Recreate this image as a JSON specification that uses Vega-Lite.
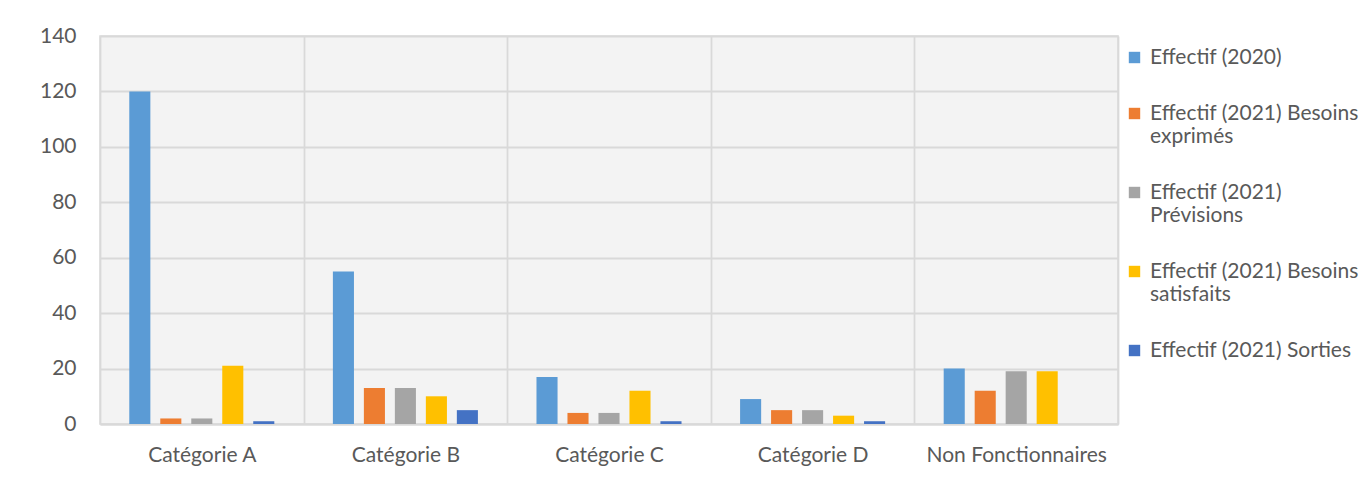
{
  "$schema": "https://vega.github.io/schema/vega-lite/v6.json",
  "autosize": {"type": "none"},
  "width": 1018,
  "height": 388,
  "padding": {"left": 100, "top": 36, "right": 253, "bottom": 77},
  "background": "white",
  "config": {
    "font": "Lato",
    "view": {"fill": "#f3f3f3", "stroke": "#d9d9d9", "strokeWidth": 1.5},
    "axis": {"labelFont": "Lato", "labelColor": "#595959", "labelFontSize": 21, "gridColor": "#d9d9d9", "gridWidth": 1.8, "ticks": false}
  },
  "data": {
    "values": [
      {"category": "Catégorie A", "series": "Effectif (2020)", "value": 120},
      {"category": "Catégorie A", "series": "Effectif (2021)  Besoins exprimés", "value": 2},
      {"category": "Catégorie A", "series": "Effectif (2021) Prévisions", "value": 2},
      {"category": "Catégorie A", "series": "Effectif (2021)  Besoins satisfaits", "value": 21},
      {"category": "Catégorie A", "series": "Effectif (2021)  Sorties", "value": 1},
      {"category": "Catégorie B", "series": "Effectif (2020)", "value": 55},
      {"category": "Catégorie B", "series": "Effectif (2021)  Besoins exprimés", "value": 13},
      {"category": "Catégorie B", "series": "Effectif (2021) Prévisions", "value": 13},
      {"category": "Catégorie B", "series": "Effectif (2021)  Besoins satisfaits", "value": 10},
      {"category": "Catégorie B", "series": "Effectif (2021)  Sorties", "value": 5},
      {"category": "Catégorie C", "series": "Effectif (2020)", "value": 17},
      {"category": "Catégorie C", "series": "Effectif (2021)  Besoins exprimés", "value": 4},
      {"category": "Catégorie C", "series": "Effectif (2021) Prévisions", "value": 4},
      {"category": "Catégorie C", "series": "Effectif (2021)  Besoins satisfaits", "value": 12},
      {"category": "Catégorie C", "series": "Effectif (2021)  Sorties", "value": 1},
      {"category": "Catégorie D", "series": "Effectif (2020)", "value": 9},
      {"category": "Catégorie D", "series": "Effectif (2021)  Besoins exprimés", "value": 5},
      {"category": "Catégorie D", "series": "Effectif (2021) Prévisions", "value": 5},
      {"category": "Catégorie D", "series": "Effectif (2021)  Besoins satisfaits", "value": 3},
      {"category": "Catégorie D", "series": "Effectif (2021)  Sorties", "value": 1},
      {"category": "Non Fonctionnaires", "series": "Effectif (2020)", "value": 20},
      {"category": "Non Fonctionnaires", "series": "Effectif (2021)  Besoins exprimés", "value": 12},
      {"category": "Non Fonctionnaires", "series": "Effectif (2021) Prévisions", "value": 19},
      {"category": "Non Fonctionnaires", "series": "Effectif (2021)  Besoins satisfaits", "value": 19},
      {"category": "Non Fonctionnaires", "series": "Effectif (2021)  Sorties", "value": 0}
    ]
  },
  "mark": {"type": "bar"},
  "encoding": {
    "x": {
      "field": "category", "type": "nominal", "sort": null,
      "scale": {"paddingInner": 0, "paddingOuter": 0},
      "axis": {"title": null, "labelAngle": 0, "labelPadding": 20, "labelLimit": 300, "tickBand": "extent", "grid": true, "domainColor": "#d9d9d9", "domainWidth": 2}
    },
    "xOffset": {
      "field": "series", "type": "nominal", "sort": null,
      "scale": {"paddingInner": 0.32, "paddingOuter": 0.945}
    },
    "y": {
      "field": "value", "type": "quantitative",
      "scale": {"domain": [0, 140], "nice": false},
      "axis": {"title": null, "values": [0, 20, 40, 60, 80, 100, 120, 140], "domain": false, "labelPadding": 24}
    },
    "color": {
      "field": "series", "type": "nominal", "sort": null,
      "scale": {
        "domain": ["Effectif (2020)", "Effectif (2021)  Besoins exprimés", "Effectif (2021) Prévisions", "Effectif (2021)  Besoins satisfaits", "Effectif (2021)  Sorties"],
        "range": ["#5b9bd5", "#ed7d31", "#a5a5a5", "#ffc000", "#4472c4"]
      },
      "legend": {
        "title": null,
        "orient": "none",
        "legendX": 1024,
        "legendY": 11,
        "padding": 0,
        "symbolType": "square",
        "symbolSize": 130,
        "symbolStrokeWidth": 0,
        "labelFont": "Lato",
        "labelFontSize": 21,
        "labelColor": "#595959",
        "labelOffset": 5,
        "labelLimit": 245,
        "rowPadding": 34,
        "labelExpr": "datum.label == 'Effectif (2021)  Besoins exprimés' ? ['Effectif (2021)  Besoins', 'exprimés'] : datum.label == 'Effectif (2021) Prévisions' ? ['Effectif (2021)', 'Prévisions'] : datum.label == 'Effectif (2021)  Besoins satisfaits' ? ['Effectif (2021)  Besoins', 'satisfaits'] : datum.label"
      }
    }
  }
}
